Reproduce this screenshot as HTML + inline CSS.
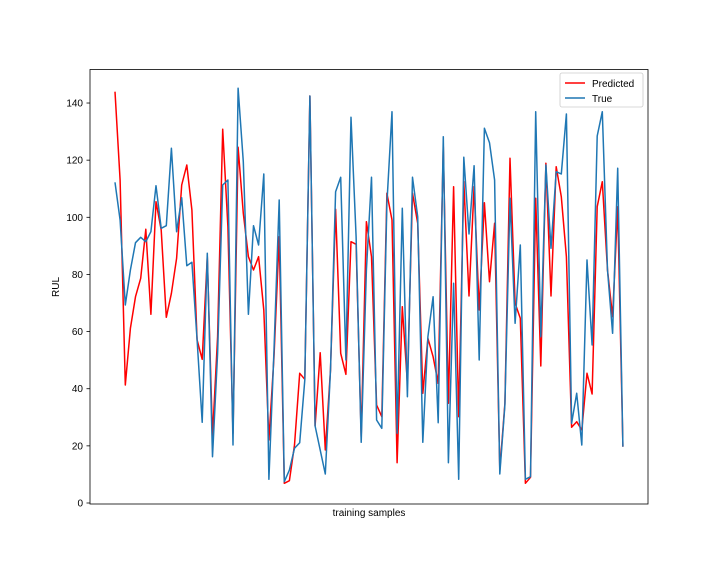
<!DOCTYPE html>
<html><head><meta charset="utf-8"><style>
body{margin:0;background:#fff}
svg{display:block;font-family:"Liberation Sans","DejaVu Sans",sans-serif}
</style></head><body>
<svg id="s" width="720" height="576" viewBox="0 0 720 576">
<rect width="720" height="576" fill="#fff"/>
<g id="lines"></g>
<rect x="90" y="69.5" width="558" height="434.5" fill="none" stroke="#000" stroke-width="0.8"/>
<g id="ticks" font-size="10" fill="#000"></g>
<text x="369" y="516" font-size="10" text-anchor="middle">training samples</text>
<text transform="translate(59,287) rotate(-90)" font-size="10" text-anchor="middle">RUL</text>
<rect x="560" y="73" width="83" height="34" rx="2" fill="#fff" stroke="#ccc" stroke-width="0.8"/>
<line x1="565" y1="83" x2="585" y2="83" stroke="#ff0000" stroke-width="1.5"/>
<text x="592" y="87" font-size="10">Predicted</text>
<line x1="565" y1="98" x2="585" y2="98" stroke="#1f77b4" stroke-width="1.5"/>
<text x="592" y="102" font-size="10">True</text>
</svg>
<script>
var B=[337,450,705,600,518,502,515,485,347,475,467,235,485,383,587,577,810,1057,550,1160,850,345,330,1125,55,275,733,467,525,312,1228,840,390,
1235,1200,1135,1118,930,78,1068,1140,1212,900,365,322,870,142,500,1117,600,322,1050,1075,400,125,1090,415,980,322,440,1117,800,680,1058,200,1178,640,1228,
262,492,287,870,175,218,330,1212,1005,385,760,525,1228,1220,125,800,285,535,305,312,132,1060,970,1125,570,825,198,125,600,790,295,1130];
var R=[65,330,945,775,680,625,478,733,395,480,742,670,565,345,285,420,810,868,560,1100,800,178,470,1090,232,430,560,600,560,720,1110,860,500,
1240,1232,1125,910,928,78,1068,848,1140,900,418,850,913,515,523,1100,455,560,1005,1040,370,450,1178,710,940,370,460,970,805,860,940,230,1000,350,1040,
335,678,350,720,398,635,460,1200,1000,265,700,745,1240,1222,385,888,280,678,290,380,560,1072,1055,1080,910,972,410,335,600,740,410,1130];
function pts(a){return a.map(function(z,i){return (115+5.13*i).toFixed(1)+','+(70+z/3).toFixed(1)}).join(' ')}
var ns='http://www.w3.org/2000/svg',g=document.getElementById('lines');
[[R,'#ff0000'],[B,'#1f77b4']].forEach(function(p){var l=document.createElementNS(ns,'polyline');l.setAttribute('points',pts(p[0]));l.setAttribute('fill','none');l.setAttribute('stroke',p[1]);l.setAttribute('stroke-width','1.5');l.setAttribute('stroke-linejoin','round');g.appendChild(l);});
var t=document.getElementById('ticks');
for(var v=0;v<=140;v+=20){var y=503-v*2.857;var ln=document.createElementNS(ns,'line');ln.setAttribute('x1',86.5);ln.setAttribute('x2',90);ln.setAttribute('y1',y);ln.setAttribute('y2',y);ln.setAttribute('stroke','#000');ln.setAttribute('stroke-width','0.8');t.appendChild(ln);
var tx=document.createElementNS(ns,'text');tx.setAttribute('x',83);tx.setAttribute('y',y+3.5);tx.setAttribute('text-anchor','end');tx.textContent=v;t.appendChild(tx);}
</script>
</body></html>
